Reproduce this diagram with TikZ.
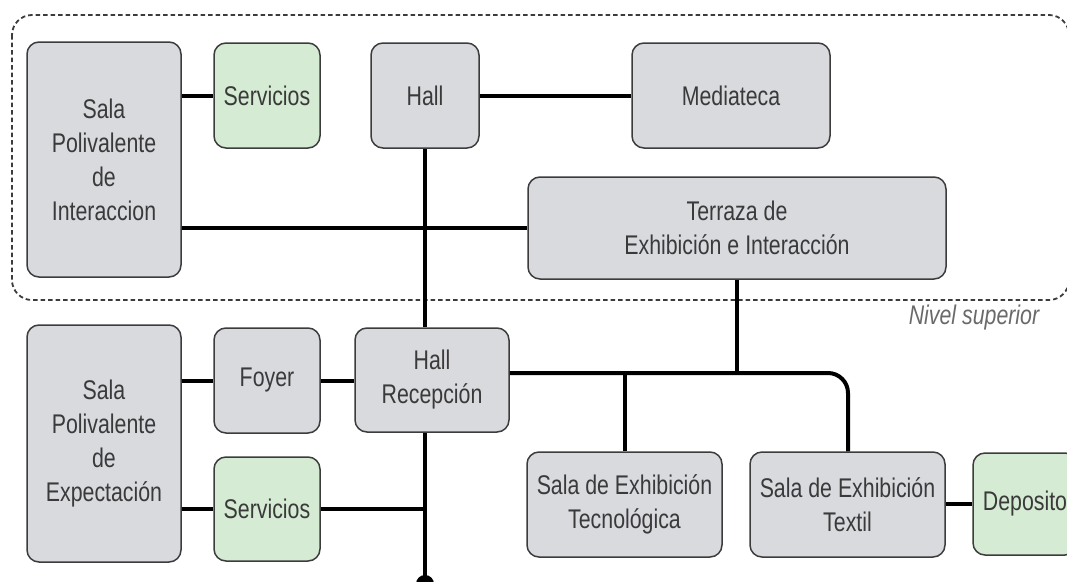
\documentclass[tikz,border=0pt]{standalone}
\usepackage{fontspec}
\setmainfont[FakeStretch=0.79]{Liberation Sans}
\usetikzlibrary{calc}
\definecolor{roomgray}{HTML}{D9DADE}
\definecolor{roomgreen}{HTML}{D5EBD3}
\definecolor{edgegray}{HTML}{3C3C3C}
\definecolor{txtgray}{HTML}{3A3A3A}
\definecolor{lblgray}{HTML}{6A6A6A}
\tikzset{
  room/.style={draw=edgegray, line width=1.5pt, rounded corners=12pt, fill=roomgray,
    align=center, inner sep=0pt, text=txtgray, font=\fontsize{27}{34}\selectfont},
  svc/.style={room, fill=roomgreen},
  link/.style={line width=4pt, black},
  levelbox/.style={draw=edgegray, line width=1.8pt, dash pattern=on 4.5pt off 3pt, rounded corners=20pt}
}
\begin{document}
\begin{tikzpicture}[x=1pt,y=-1pt]
\useasboundingbox (0,0) rectangle (1067,581);
\draw[levelbox] (12,15) rectangle (1069,300);
\node[text=lblgray, font=\fontsize{27}{30}\selectfont\itshape] (lvl) at (974,318) {Nivel superior};
% nodes
\node[room, minimum width=154pt, minimum height=235pt] (salaint) at (104,159.5) {Sala\\Polivalente\\de\\Interaccion};
\node[svc, minimum width=106pt, minimum height=105pt] (servtop) at (267,95.5) {Servicios};
\node[room, minimum width=108pt, minimum height=105pt] (hall) at (425,95.5) {Hall};
\node[room, minimum width=198pt, minimum height=105pt] (media) at (731,95.5) {Mediateca};
\node[room, minimum width=418pt, minimum height=102pt] (terraza) at (737,228) {Terraza de\\Exhibición e Interacción};
\node[room, minimum width=154pt, minimum height=237pt] (salaexp) at (104,443.5) {Sala\\Polivalente\\de\\Expectación};
\node[room, minimum width=106pt, minimum height=105pt] (foyer) at (267,380.5) {Foyer};
\node[room, minimum width=154pt, minimum height=104pt] (hallrec) at (432,380) {Hall\\Recepción};
\node[svc, minimum width=106pt, minimum height=104pt] (servlow) at (267,509) {Servicios};
\node[room, minimum width=195pt, minimum height=105pt] (tecno) at (624.5,504.5) {Sala de Exhibición\\Tecnológica};
\node[room, minimum width=195pt, minimum height=105pt] (textil) at (847.5,504.5) {Sala de Exhibición\\Textil};
\node[svc, minimum width=104pt, minimum height=102pt] (depo) at (1025,504) {Deposito};
% junction coordinates
\coordinate (j) at (848,373);
\coordinate (vx) at (425,0);
\coordinate (dot) at (425,584);
% connectors
\draw[link] (salaint.east |- servtop.west) -- (servtop.west);
\draw[link] (hall.east) -- (media.west);
\draw[link] (salaint.east |- terraza.west) -- (terraza.west);
\draw[link] (hall.south) -- (hall.south |- hallrec.north);
\draw[link] (vx |- hallrec.south) -- (dot);
\fill[black] (dot) circle (9pt);
\draw[link] (salaexp.east |- foyer.west) -- (foyer.west);
\draw[link] (foyer.east) -- (foyer.east -| hallrec.west);
\draw[link] (salaexp.east |- servlow.west) -- (servlow.west);
\draw[link] (servlow.east) -- (servlow.east -| vx);
\draw[link, rounded corners=20pt] (hallrec.east |- j) -- (j) -- (textil.north -| j);
\draw[link] (terraza.south) -- (terraza.south |- j);
\draw[link] (tecno.north) -- (tecno.north |- j);
\draw[link] (textil.east |- depo.west) -- (depo.west);
\end{tikzpicture}
\end{document}
